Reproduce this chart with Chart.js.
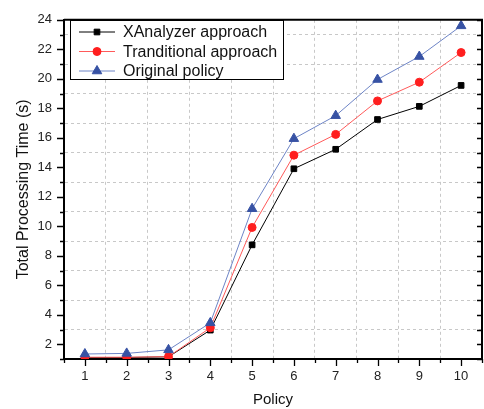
<!DOCTYPE html>
<html>
<head>
<meta charset="utf-8">
<script src="https://cdn.jsdelivr.net/npm/chart.js@4.4.0/dist/chart.umd.min.js"></script>
<style>
html, body { margin: 0; padding: 0; background: #fff; overflow: hidden; }
#wrap { width: 492px; height: 409px; }
</style>
</head>
<body>
<div id="wrap"><canvas id="lineChart"></canvas></div>
<script>
const policies = [1, 2, 3, 4, 5, 6, 7, 8, 9, 10];
const xanalyzer = [1.1, 1.1, 1.15, 2.96, 8.74, 13.9, 15.22, 17.24, 18.13, 19.55];
const traditional = [1.12, 1.12, 1.16, 3.12, 9.92, 14.82, 16.23, 18.5, 19.77, 21.78];
const original = [1.34, 1.38, 1.62, 3.45, 11.19, 15.94, 17.5, 19.95, 21.51, 23.59];
const yTickLabels = [2, 4, 6, 8, 10, 12, 14, 16, 18, 20, 22, 24];
const xTickLabels = policies;

const toPoints = (vals) => policies.map((p, i) => ({ x: p, y: vals[i] }));

// ticks, top/right frame and the boxed legend
const framePlugin = {
    id: 'frame',
    afterDraw(chart) {
        const { ctx, chartArea: a, scales } = chart;
        ctx.save();
        ctx.strokeStyle = '#000';
        ctx.lineWidth = 2;
        ctx.beginPath();
        ctx.moveTo(a.left, a.top);
        ctx.lineTo(a.right, a.top);
        ctx.lineTo(a.right, a.bottom);
        ctx.stroke();

        ctx.lineWidth = 1.3;
        scales.y.ticks.forEach(t => {
            const y = Math.round(scales.y.getPixelForValue(t.value)) + 0.5;
            const len = yTickLabels.includes(t.value) ? 7 : 4;
            ctx.beginPath();
            ctx.moveTo(a.left - len, y);
            ctx.lineTo(a.left, y);
            ctx.moveTo(a.right - 5, y);
            ctx.lineTo(a.right, y);
            ctx.stroke();
        });
        scales.x.ticks.forEach(t => {
            const x = Math.round(scales.x.getPixelForValue(t.value)) + 0.5;
            const len = xTickLabels.includes(t.value) ? 7 : 4;
            ctx.beginPath();
            ctx.moveTo(x, a.bottom);
            ctx.lineTo(x, a.bottom + len);
            ctx.stroke();
        });

        // legend
        const bx = 70, by = 20, bw = 213, bh = 59;
        ctx.fillStyle = '#fff';
        ctx.fillRect(bx, by, bw, bh);
        ctx.lineWidth = 1;
        ctx.strokeStyle = '#000';
        ctx.strokeRect(bx + 0.5, by + 0.5, bw, bh);
        ctx.font = '16px "Liberation Sans", Arial, sans-serif';
        ctx.textBaseline = 'middle';
        chart.data.datasets.forEach((ds, i) => {
            const y = 32 + i * 19.5;
            ctx.strokeStyle = ds.borderColor;
            ctx.lineWidth = ds.borderWidth;
            ctx.beginPath();
            ctx.moveTo(79, y);
            ctx.lineTo(115, y);
            ctx.stroke();
            ctx.fillStyle = ds.pointBackgroundColor;
            ctx.strokeStyle = ds.pointBorderColor;
            Chart.helpers.drawPoint(ctx, {
                pointStyle: ds.pointStyle,
                radius: ds.pointRadius,
                rotation: 0,
                borderWidth: 1
            }, 97, y);
            ctx.fillStyle = '#111';
            ctx.fillText(ds.label, 123, y + 1);
        });
        ctx.restore();
    }
};

const chart = new Chart(document.getElementById('lineChart'), {
    type: 'line',
    data: {
        datasets: [{
            label: 'XAnalyzer approach',
            data: toPoints(xanalyzer),
            borderColor: '#000000',
            borderWidth: 1,
            pointStyle: 'rect',
            pointRadius: 4,
            pointBackgroundColor: '#000000',
            pointBorderColor: '#000000',
            order: 2
        }, {
            label: 'Tranditional approach',
            data: toPoints(traditional),
            borderColor: '#ff5a5a',
            borderWidth: 1,
            pointStyle: 'circle',
            pointRadius: 4,
            pointBackgroundColor: '#ff1f1f',
            pointBorderColor: '#ff1f1f',
            order: 1
        }, {
            label: 'Original policy',
            data: toPoints(original),
            borderColor: '#6d84c6',
            borderWidth: 1,
            pointStyle: 'triangle',
            pointRadius: 5.5,
            pointBackgroundColor: '#3752a4',
            pointBorderColor: '#3752a4',
            order: 0
        }]
    },
    options: {
        responsive: true,
        maintainAspectRatio: false,
        animation: false,
        layout: {
            padding: { left: 0, right: 6, top: 15, bottom: 0 }
        },
        plugins: {
            legend: { display: false },
            tooltip: { enabled: false }
        },
        scales: {
            x: {
                type: 'linear',
                min: 0.5,
                max: 10.5,
                afterFit: (s) => { s.height = 50; },
                ticks: {
                    stepSize: 0.5,
                    autoSkip: false,
                    maxRotation: 0,
                    padding: 10,
                    color: '#222',
                    font: { family: '"Liberation Sans", Arial, sans-serif', size: 13 },
                    callback: (v) => xTickLabels.includes(v) ? String(v) : ''
                },
                grid: {
                    drawTicks: false,
                    lineWidth: 1,
                    color: (c) => (c.tick && c.tick.value % 1 === 0.5 && c.tick.value > 0.5) ? '#c8c8c8' : 'rgba(0,0,0,0)'
                },
                border: { display: true, color: '#000', width: 2, dash: [3, 3] },
                title: {
                    display: true,
                    text: 'Policy',
                    color: '#111',
                    font: { family: '"Liberation Sans", Arial, sans-serif', size: 15 },
                    padding: { top: 0, bottom: 0 }
                }
            },
            y: {
                min: 1,
                max: 24,
                afterFit: (s) => { s.width = 64; },
                ticks: {
                    stepSize: 1,
                    autoSkip: false,
                    padding: 12,
                    color: '#222',
                    font: { family: '"Liberation Sans", Arial, sans-serif', size: 13 },
                    callback: (v) => yTickLabels.includes(v) ? String(v) : ''
                },
                grid: {
                    drawTicks: false,
                    lineWidth: 1,
                    color: (c) => (c.tick && c.tick.value % 2 === 1) ? '#c8c8c8' : 'rgba(0,0,0,0)'
                },
                border: { display: true, color: '#000', width: 2, dash: [3, 3] },
                title: {
                    display: true,
                    text: 'Total Processing Time (s)',
                    color: '#111',
                    font: { family: '"Liberation Sans", Arial, sans-serif', size: 16 },
                    padding: { top: 14, bottom: 0 }
                }
            }
        }
    },
    plugins: [framePlugin]
});
</script>
</body>
</html>
